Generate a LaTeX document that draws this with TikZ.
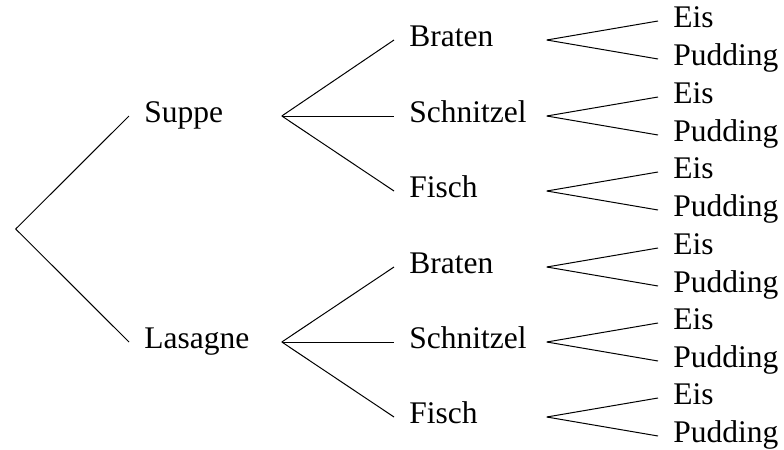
\documentclass[tikz,border=0pt]{standalone}
\usepackage{fontspec}
\setmainfont{Liberation Serif}
\usetikzlibrary{positioning}

\begin{document}
\begin{tikzpicture}[
    x=0.5pt, y=-0.5pt,
    course/.style={anchor=west, inner xsep=7.5pt, inner ysep=0pt, text height=11pt, text depth=4.7pt, text width=61pt, align=left, font=\fontsize{15.75}{19}\selectfont},
    dessert/.style={course, text width=48pt},
    branch/.style={line width=0.5pt}
]
\useasboundingbox (0,0) rectangle (784,450);

\coordinate (root) at (15.7,229);
\node[course] (suppe) at (129,116) {Suppe};
\node[course] (lasagne) at (129,342) {Lasagne};

\node[course] (sbraten) at (394,40) {Braten};
\node[course] (sschnitzel) at (394,116) {Schnitzel};
\node[course] (sfisch) at (394,191) {Fisch};
\node[course] (lbraten) at (394,267) {Braten};
\node[course] (lschnitzel) at (394,342) {Schnitzel};
\node[course] (lfisch) at (394,417) {Fisch};

\node[dessert] (sbraten-eis) at (658,21) {Eis};
\node[dessert] (sbraten-pud) at (658,59) {Pudding};
\node[dessert] (sschnitzel-eis) at (658,97) {Eis};
\node[dessert] (sschnitzel-pud) at (658,135) {Pudding};
\node[dessert] (sfisch-eis) at (658,172) {Eis};
\node[dessert] (sfisch-pud) at (658,210) {Pudding};
\node[dessert] (lbraten-eis) at (658,248) {Eis};
\node[dessert] (lbraten-pud) at (658,286) {Pudding};
\node[dessert] (lschnitzel-eis) at (658,323) {Eis};
\node[dessert] (lschnitzel-pud) at (658,361) {Pudding};
\node[dessert] (lfisch-eis) at (658,398) {Eis};
\node[dessert] (lfisch-pud) at (658,436) {Pudding};

\draw[branch] (root) -- (suppe.west);
\draw[branch] (root) -- (lasagne.west);

\draw[branch] (suppe.east) -- (sbraten.west);
\draw[branch] (suppe.east) -- (sschnitzel.west);
\draw[branch] (suppe.east) -- (sfisch.west);
\draw[branch] (lasagne.east) -- (lbraten.west);
\draw[branch] (lasagne.east) -- (lschnitzel.west);
\draw[branch] (lasagne.east) -- (lfisch.west);

\draw[branch] (sbraten.east) -- (sbraten-eis.west);
\draw[branch] (sbraten.east) -- (sbraten-pud.west);
\draw[branch] (sschnitzel.east) -- (sschnitzel-eis.west);
\draw[branch] (sschnitzel.east) -- (sschnitzel-pud.west);
\draw[branch] (sfisch.east) -- (sfisch-eis.west);
\draw[branch] (sfisch.east) -- (sfisch-pud.west);
\draw[branch] (lbraten.east) -- (lbraten-eis.west);
\draw[branch] (lbraten.east) -- (lbraten-pud.west);
\draw[branch] (lschnitzel.east) -- (lschnitzel-eis.west);
\draw[branch] (lschnitzel.east) -- (lschnitzel-pud.west);
\draw[branch] (lfisch.east) -- (lfisch-eis.west);
\draw[branch] (lfisch.east) -- (lfisch-pud.west);
\end{tikzpicture}
\end{document}
